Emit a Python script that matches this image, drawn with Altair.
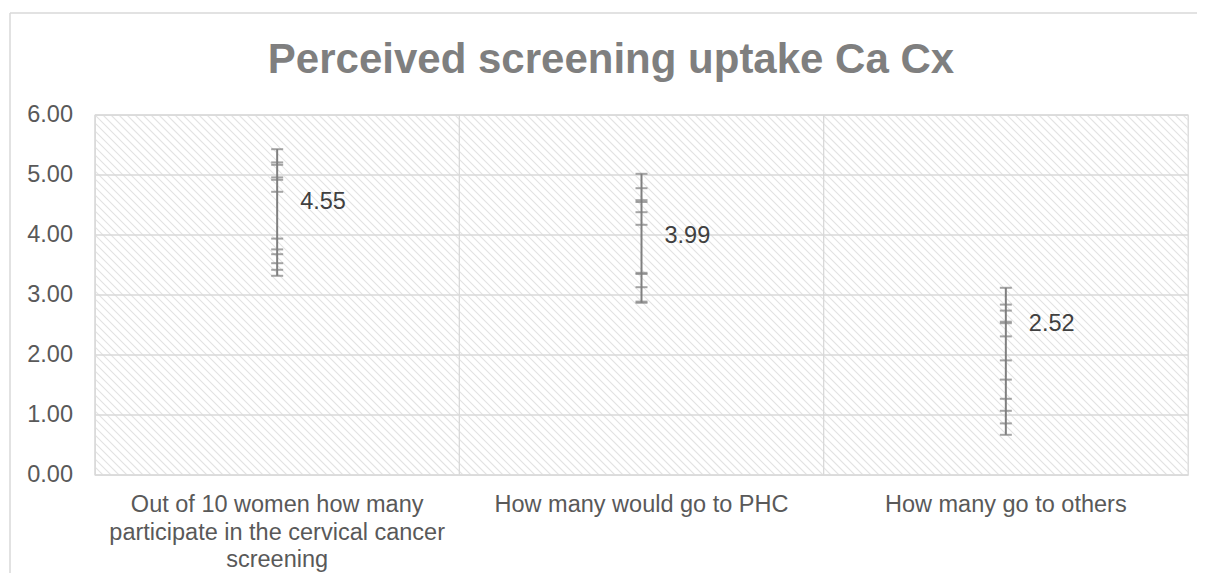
import altair as alt
import pandas as pd

# ---------------- data ----------------
title_text = "Perceived screening uptake Ca Cx"
categories = [
    "Out of 10 women how many participate in the cervical cancer screening",
    "How many would go to PHC",
    "How many go to others",
]
label_lines = [
    ["Out of 10 women how many", "participate in the cervical cancer", "screening"],
    ["How many would go to PHC"],
    ["How many go to others"],
]
means = [4.55, 3.99, 2.52]
# positions of the error-bar caps
ticks_cat1 = [5.43, 5.21, 5.17, 4.96, 4.92, 4.72, 3.94, 3.76, 3.68, 3.53, 3.42, 3.32]
ticks_cat2 = [5.02, 4.78, 4.58, 4.55, 4.38, 4.17, 3.37, 3.35, 3.13, 2.89, 2.87]
ticks_cat3 = [3.12, 2.84, 2.74, 2.555, 2.53, 2.31, 1.91, 1.59, 1.27, 1.07, 0.86, 0.67]
y_ticks = [0, 1, 2, 3, 4, 5, 6]

# ---------------- tables ----------------
df_mean = pd.DataFrame({"cat": categories, "mean": means,
                        "label": [f"{m:.2f}" for m in means],
                        "lines": label_lines})
tick_rows = []
for c, vals in zip(categories, [ticks_cat1, ticks_cat2, ticks_cat3]):
    for v in vals:
        tick_rows.append({"cat": c, "v": v})
df_ticks = pd.DataFrame(tick_rows)
df_grid = pd.DataFrame({"g": y_ticks, "txt": [f"{g:.2f}" for g in y_ticks]})

W, H = 1093, 360
FONT = "Liberation Sans"
GRID = "#d9d9d9"
BAR = "#7f7f7f"
AXIS_TXT = "#595959"

x_scale = alt.Scale(type="band", domain=categories, paddingInner=0, paddingOuter=0)
y_scale = alt.Scale(domain=[0, 6], nice=False, zero=True)

# hatch pattern of the plot area (decoration, pixel space, no scale)
hatch = alt.Chart(alt.sequence(-H, W + 8, 8, as_="k")).transform_calculate(
    k2=f"datum.k + {H}"
).mark_rule(clip=True, color="#e2e2e2", strokeWidth=1.1).encode(
    x=alt.X("k:Q", scale=None, axis=None),
    x2="k2:Q",
    y=alt.value(0),
    y2=alt.value(H),
)

hgrid = alt.Chart(df_grid).mark_rule(color=GRID, strokeWidth=1.3).encode(
    y=alt.Y("g:Q", scale=y_scale, axis=None)
)

ylabels = alt.Chart(df_grid).mark_text(
    align="right", baseline="middle", font=FONT, fontSize=23.5, color=AXIS_TXT
).encode(
    x=alt.value(-22),
    y=alt.Y("g:Q", scale=y_scale, axis=None),
    text="txt:N",
)

vgrid = alt.Chart(df_mean).mark_rule(color=GRID, strokeWidth=1.3).encode(
    x=alt.X("cat:N", scale=x_scale, bandPosition=0, axis=None),
    y=alt.value(0),
    y2=alt.value(H),
)

xlabels = alt.Chart(df_mean).mark_text(
    align="center", baseline="top", font=FONT, fontSize=23.5, color=AXIS_TXT,
    lineHeight=27.5,
).encode(
    x=alt.X("cat:N", scale=x_scale, bandPosition=0.5, axis=None),
    y=alt.value(H + 18),
    text="lines:N",
)

stems = alt.Chart(df_ticks).mark_rule(color=BAR, strokeWidth=2).encode(
    x=alt.X("cat:N", scale=x_scale, bandPosition=0.5, axis=None),
    y=alt.Y("min(v):Q", scale=y_scale, axis=None),
    y2="max(v):Q",
)

caps = alt.Chart(df_ticks).mark_tick(color=BAR, size=12, thickness=2).encode(
    x=alt.X("cat:N", scale=x_scale, bandPosition=0.5, axis=None),
    y=alt.Y("v:Q", scale=y_scale, axis=None),
)

values = alt.Chart(df_mean).mark_text(
    align="left", baseline="middle", dx=23, font=FONT, fontSize=23.5, color="#404040"
).encode(
    x=alt.X("cat:N", scale=x_scale, bandPosition=0.5, axis=None),
    y=alt.Y("mean:Q", scale=y_scale, axis=None),
    text="label:N",
)

title = alt.Chart(pd.DataFrame({"t": [title_text]})).mark_text(
    font=FONT, fontSize=42, fontWeight="bold", color="#7f7f7f",
    align="center", baseline="alphabetic",
).encode(text="t:N", x=alt.value(516), y=alt.value(-42))

frame_top = alt.Chart(pd.DataFrame({"t": [0]})).mark_rule(color=GRID, strokeWidth=1.5).encode(
    x=alt.value(-85), x2=alt.value(1200), y=alt.value(-102)
)
frame_left = alt.Chart(pd.DataFrame({"t": [0]})).mark_rule(color=GRID, strokeWidth=1.5).encode(
    x=alt.value(-85), y=alt.value(-102), y2=alt.value(500)
)

chart = alt.layer(
    hatch, hgrid, vgrid, stems, caps, values, ylabels, xlabels, title, frame_top, frame_left
).properties(
    width=W,
    height=H,
    background="white",
    autosize=alt.AutoSizeParams(type="none"),
    padding={"left": 87, "top": 107, "right": 9, "bottom": 98},
).configure_view(stroke=GRID, strokeWidth=1.3)

chart.save("out.html", embed_options={"renderer": "svg", "actions": False})
